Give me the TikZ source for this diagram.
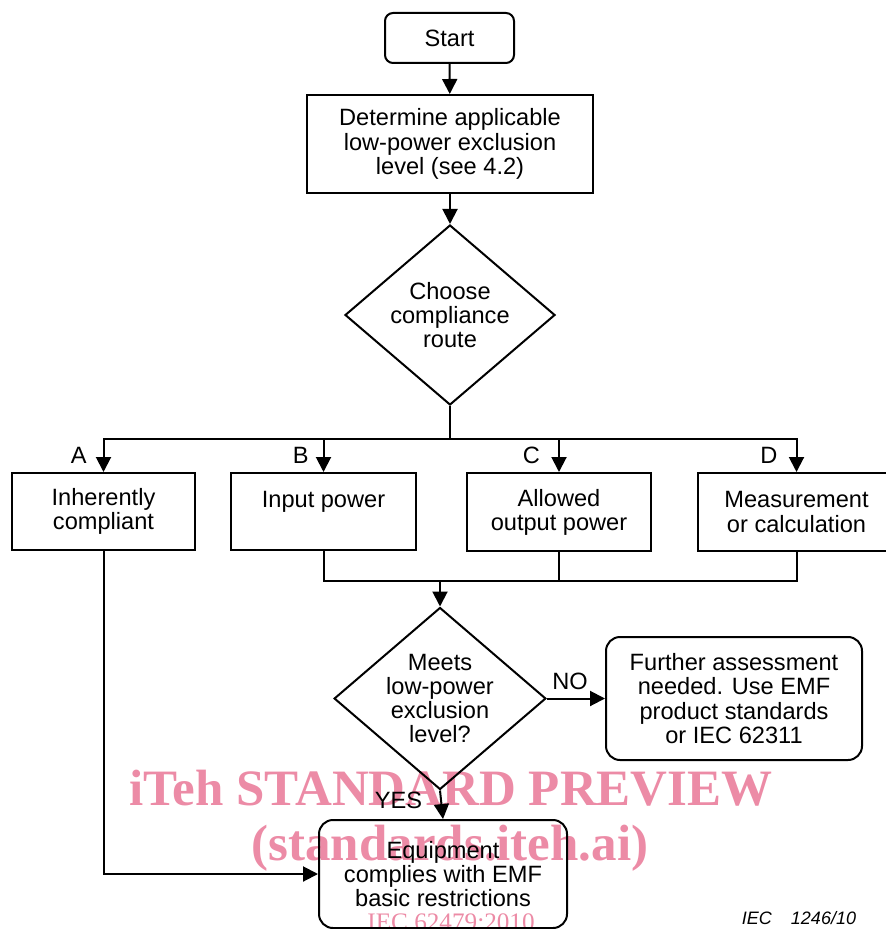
\documentclass[tikz,border=0pt]{standalone}
\usepackage{fontspec}
\setmainfont{Liberation Sans}
\newfontfamily\wmfont{Liberation Serif}
\usepackage{tikz}
\usetikzlibrary{positioning,shapes.geometric,arrows.meta}
\usepackage{xcolor}
\definecolor{wmpink}{RGB}{236,139,166}

\begin{document}
\begin{tikzpicture}[x=0.5pt, y=-0.5pt,
        every node/.style ={align=center, inner sep=0pt, font=\fontsize{11.8}{12.1}\selectfont},
        line/.style     ={draw, line width=1pt},
        arr/.style      ={line, -{Triangle[length=7.5pt, width=7.5pt]}},
        process/.style  ={draw, line width=1pt, rectangle},
        terminal/.style ={process, rounded corners=7pt},
        decision/.style ={draw, line width=1pt, diamond, aspect=1.17},
        watermark/.style={text=wmpink, anchor=base, font=\wmfont\bfseries\fontsize{25.5}{26}\selectfont},
    ]
\useasboundingbox (0,0) rectangle (885,929);

% Watermark

\node (wm1) [watermark] at (451,805) {iTeh STANDARD PREVIEW};
\node (wm2) [watermark] at (450,860) {(standards.iteh.ai)};
\node (wm3) [watermark, font=\wmfont\fontsize{12.6}{13}\selectfont] at (451,930) {IEC 62479:2010};

% Nodes

\node (start)   [terminal, rounded corners=4pt, minimum width=64.5pt, minimum height=25pt] at (449.5,38) {Start};
\node (det)     [process, minimum width=143pt, minimum height=49pt] at (450,144) {Determine applicable\\low-power exclusion\\level (see 4.2)};
\node (route)   [decision, minimum width=105pt, minimum height=90pt] at (450,315) {Choose\\compliance\\route};
\node (inh)     [process, minimum width=91.5pt, minimum height=38.5pt] at (103.5,511.5) {Inherently\\compliant};
\node (inp)     [process, minimum width=92.5pt, minimum height=38.5pt] at (323.5,511.5) {Input power\\\mbox{}};
\node (outp)    [process, minimum width=92pt, minimum height=39pt] at (559,512) {Allowed\\output power};
\node (meas)    [process, minimum width=99pt, minimum height=39pt] at (796.5,512) {Measurement\\or calculation};
\node (meets)   [decision, minimum width=104pt, minimum height=91pt] at (440,698.5) {Meets\\low-power\\exclusion\\level?};
\node (further) [terminal, minimum width=128pt, minimum height=61.5pt] at (734,698.5) {Further assessment\\needed. Use EMF\\product standards\\or IEC 62311};
\node (equip)   [terminal, minimum width=124pt, minimum height=54pt] at (443,874) {Equipment\\complies with EMF\\basic restrictions};
\node (fig)     [anchor=base, font=\itshape\fontsize{9}{10}\selectfont] at (799,924) {IEC\hspace{9.5pt}1246/10};

% Arrows
\draw[arr] (start) -- (det);
\draw[arr] (det) -- (route);

\path (route.south) ++(0,33) coordinate (fork);
\draw[line] (route.south) -- (fork);
\draw[arr] (fork) -| node[pos=0.75, left=8pt] {A} (inh.north);
\draw[arr] (fork) -| node[pos=0.75, left=7pt] {B} (inp.north);
\draw[arr] (fork) -| node[pos=0.75, left=9pt] {C} (outp.north);
\draw[arr] (fork) -| node[pos=0.75, left=9pt] {D} (meas.north);

\path (inp.south) ++(0,30) coordinate (merge);
\draw[line] (inp.south) |- (meas.south |- merge) -- (meas.south);
\draw[line] (outp.south) -- (outp.south |- merge);
\draw[arr] (meets.north |- merge) -- (meets.north);

\draw[arr] (meets.east) -- node[pos=0.4, above=4pt] {NO} (further.west);
\draw[arr] (meets.south) -- node[pos=0.35, left=9pt] {YES} (equip.north);
\draw[arr] (inh.south) |- (equip.west);

\end{tikzpicture}
\end{document}
